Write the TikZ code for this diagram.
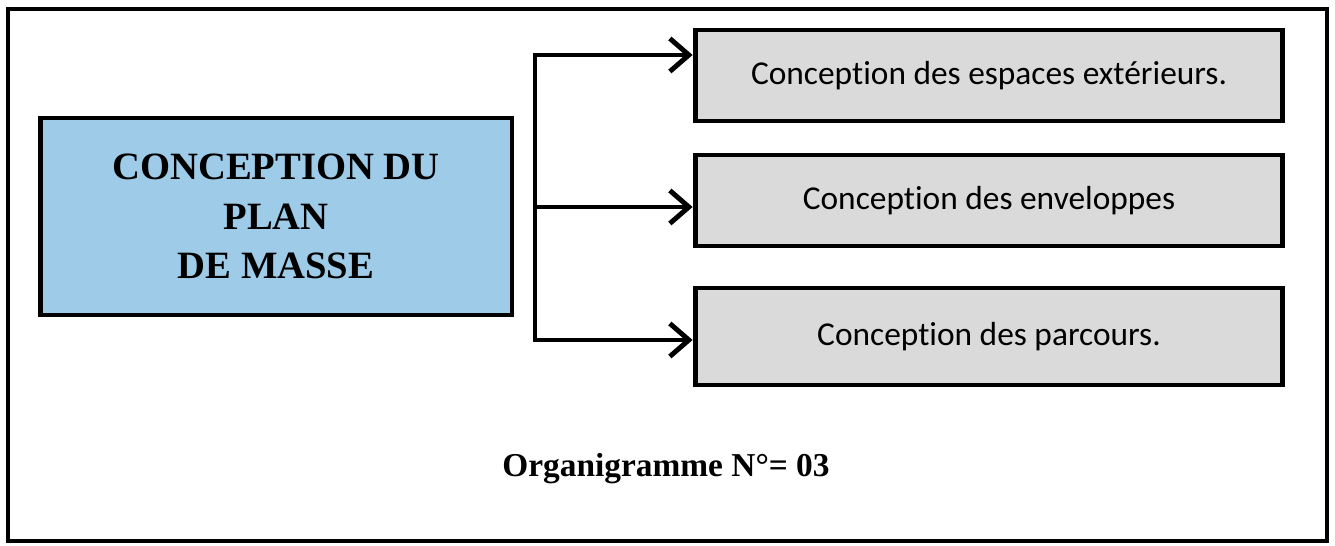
\documentclass[tikz,border=0pt]{standalone}
\usepackage{fontspec}
\setmainfont{Liberation Serif}
\newfontfamily\boxfont[Ligatures=NoCommon]{Carlito}
\usetikzlibrary{arrows.meta, calc, positioning}
\definecolor{planblue}{RGB}{157,203,232}
\definecolor{boxgray}{RGB}{218,218,218}
\tikzset{
  frame/.style   ={draw, line width=2.8pt},
  mainbox/.style ={draw, fill=planblue, line width=2.8pt, minimum width=9.44cm, minimum height=3.94cm,
                   align=center, font=\fontsize{22}{28}\selectfont\bfseries},
  subbox/.style  ={draw, fill=boxgray, line width=2.8pt, minimum width=11.76cm, minimum height=1.82cm,
                   font=\boxfont\fontsize{19}{23}\selectfont},
  bus/.style     ={line width=2.8pt, line cap=rect},
  arr/.style     ={-{Straight Barb[length=3.8mm, width=6.6mm]}, line width=2.8pt},
  capt/.style    ={font=\fontsize{19}{23}\selectfont\bfseries},
}

\begin{document}
\begin{tikzpicture}[x=0.02cm, y=-0.02cm]
  \useasboundingbox (0,0) rectangle (1335,546);
  \draw[frame] (8,9) rectangle (1327,541);

  % plan de masse
  \node[mainbox] (plan) at (276,216.5) {CONCEPTION DU\\PLAN\\DE MASSE};

  % sub boxes
  \node[subbox] (g1) at (989,75.5) {Conception des espaces ext\'erieurs.};
  \node[subbox] (g2) at (989,200.5) {Conception des enveloppes};
  \node[subbox, minimum height=1.94cm] (g3) at (989,336.5) {Conception des parcours.};

  % branches
  \coordinate (b1) at (535,55);
  \coordinate (b2) at (535,207);
  \coordinate (b3) at (535,340);
  \draw[bus] (b1) -- (b3);
  \draw[arr] (b1) -- (b1 -| g1.west);
  \draw[arr] (b2) -- (b2 -| g2.west);
  \draw[arr] (b3) -- (b3 -| g3.west);

  \node[capt] (cap) at (666,469) {Organigramme N°= 03};
\end{tikzpicture}
\end{document}
